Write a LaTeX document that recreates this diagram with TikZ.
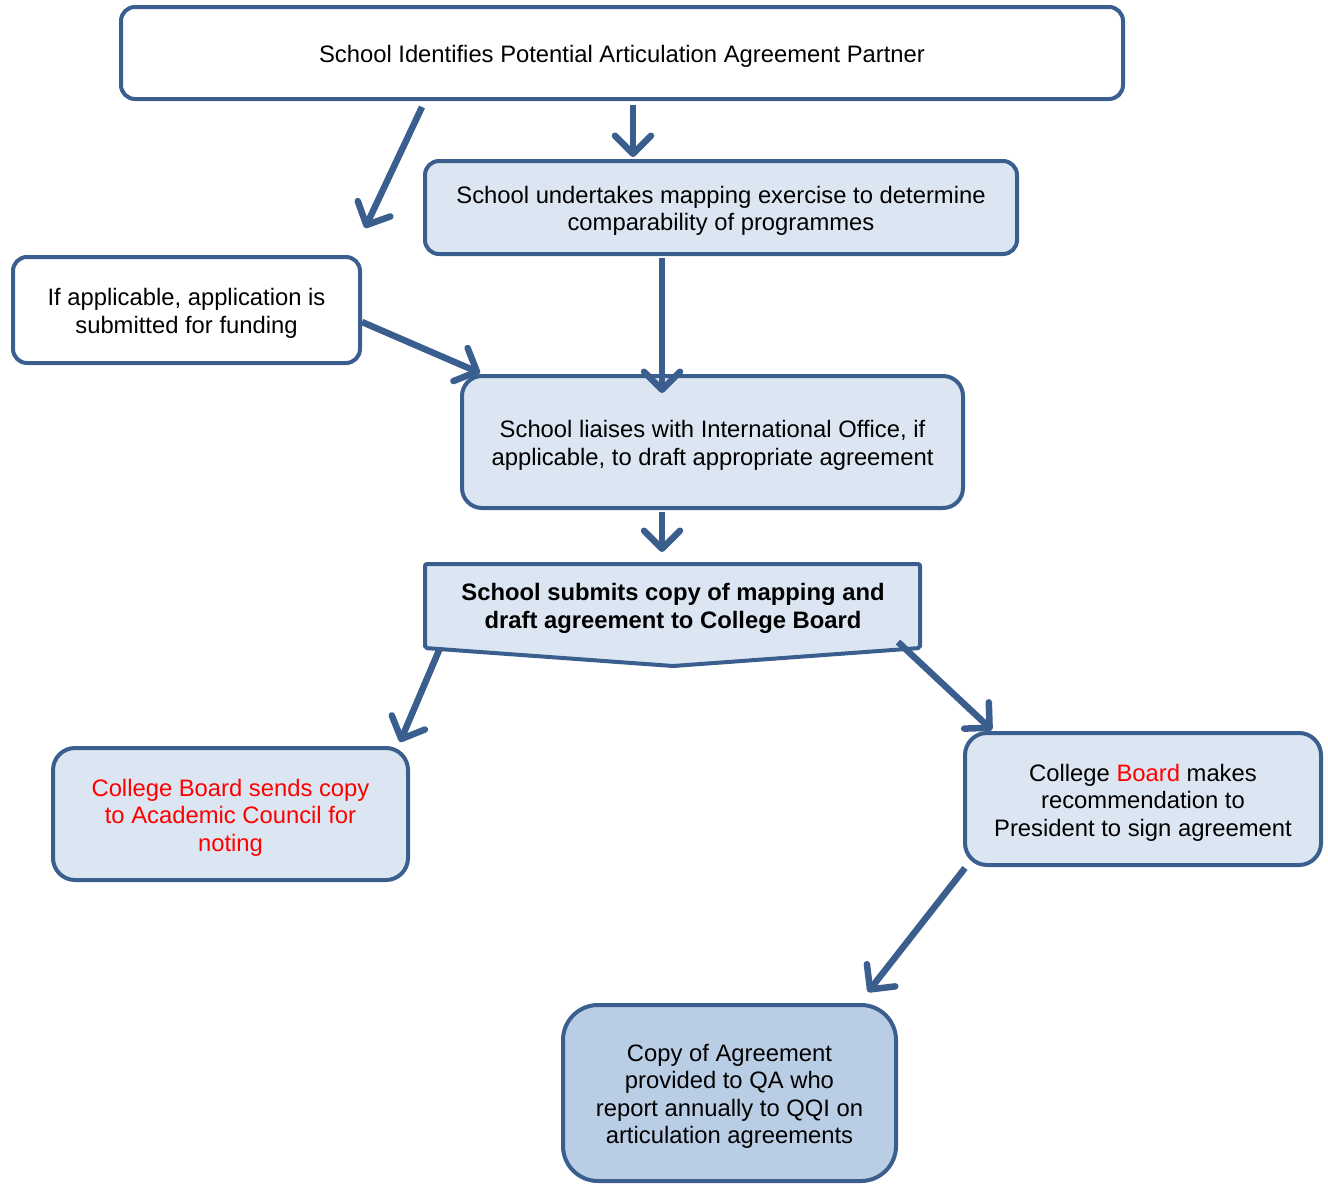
\documentclass[tikz,border=0pt]{standalone}
\usepackage{fontspec}
\setmainfont{Liberation Sans}
\usetikzlibrary{arrows.meta}
\definecolor{bord}{HTML}{3A5F8F}
\definecolor{lfill}{HTML}{DCE6F2}
\definecolor{dfill}{HTML}{B9CDE5}
\definecolor{redtxt}{HTML}{FF0000}
\newcommand\firstup{\rule{0pt}{24pt}}
\begin{document}
\begin{tikzpicture}[x=1pt,y=-1pt,
  txt/.style={align=center, inner sep=0pt, font=\fontsize{23.8}{27.5}\selectfont},
  box/.style={txt, draw=bord, line width=4pt, rounded corners=14pt},
  conn/.style={draw=bord, line width=6.5pt, line cap=butt,
    -{Straight Barb[length=18pt,width=36pt,line width=6.5pt,round]}}]
\useasboundingbox (0,0) rectangle (1328,1184);

\node[box, fill=white, minimum width=1002pt, minimum height=92pt] (top) at (622,53)
  {\firstup School Identifies Potential Articulation Agreement Partner};
\node[box, fill=lfill, minimum width=592pt, minimum height=93pt] (map) at (721,207.5)
  {\firstup School undertakes mapping exercise to determine\\comparability of programmes};
\node[box, fill=white, minimum width=347pt, minimum height=106pt] (fund) at (186.5,310)
  {\firstup If applicable, application is\\submitted for funding};
\node[box, fill=lfill, rounded corners=20pt, minimum width=501pt, minimum height=132pt] (liaise) at (712.5,442)
  {\firstup School liaises with International Office, if\\applicable, to draft appropriate agreement};

\path[draw=bord, fill=lfill, line width=4pt, rounded corners=2pt]
  (425,564) -- (920,564) -- (920,648) -- (673,666) -- (425,648) -- cycle;
\node[txt, font=\fontsize{23.8}{27.5}\selectfont\bfseries] (submit) at (673,605)
  {\firstup School submits copy of mapping and\\draft agreement to College Board};

\node[box, fill=lfill, rounded corners=22pt, minimum width=355pt, minimum height=132pt, text=redtxt] (council) at (230.5,814)
  {\firstup College Board sends copy\\to Academic Council for\\noting};
\node[box, fill=lfill, rounded corners=22pt, minimum width=356pt, minimum height=132pt] (pres) at (1143,799)
  {\firstup College \textcolor{redtxt}{Board} makes\\recommendation to\\President to sign agreement};
\node[box, fill=dfill, rounded corners=35pt, minimum width=333pt, minimum height=176pt] (qa) at (729.5,1093)
  {\firstup Copy of Agreement\\provided to QA who\\report annually to QQI on\\articulation agreements};

\coordinate (a1) at (422,107); \coordinate (a2) at (365,228);
\coordinate (b1) at (633,105); \coordinate (b2) at (633,157);
\coordinate (c1) at (662,258); \coordinate (c2) at (662,393);
\coordinate (d1) at (362,322); \coordinate (d2) at (480,373);
\coordinate (e1) at (662,512); \coordinate (e2) at (662,552);
\coordinate (f1) at (440,648); \coordinate (f2) at (400,742);
\coordinate (g1) at (898,642); \coordinate (g2) at (992,730);
\coordinate (h1) at (965,868); \coordinate (h2) at (868,992);

\draw[conn] (a1) -- (a2);
\draw[conn] (b1) -- (b2);
\draw[conn] (c1) -- (c2);
\draw[conn] (d1) -- (d2);
\draw[conn] (e1) -- (e2);
\draw[conn] (f1) -- (f2);
\draw[conn] (g1) -- (g2);
\draw[conn] (h1) -- (h2);
\end{tikzpicture}
\end{document}
